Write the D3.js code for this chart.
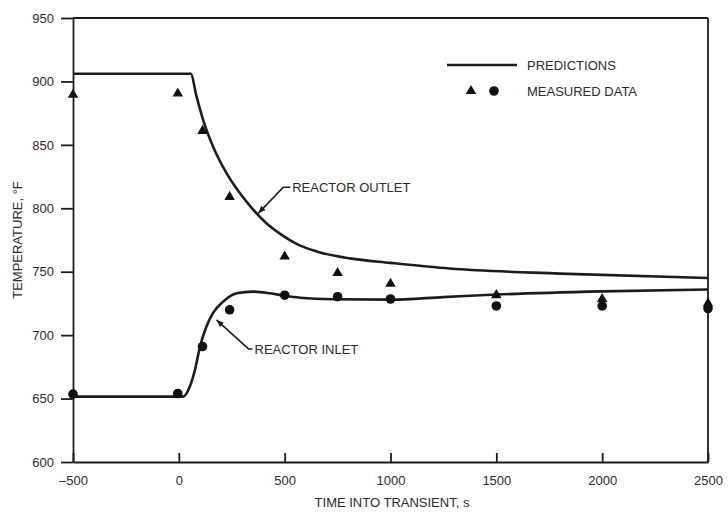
<!DOCTYPE html>
<html>
<head>
<meta charset="utf-8">
<script src="https://cdn.jsdelivr.net/npm/d3@7"></script>
<style>
  body { margin: 0; background: #fff; }
  svg text { font-family: "Liberation Sans", Arial, sans-serif; font-size: 13px; fill: #2b2b2b; }
</style>
</head>
<body>
<div id="chart-area"></div>
<script>
// axis ticks
var timeTicks = [-500, 0, 500, 1000, 1500, 2000, 2500];
var tempTicks = [600, 650, 700, 750, 800, 850, 900, 950];

// predictions
var outletTime = [-500, 56, 84, 115, 162, 226, 288, 351, 415, 491, 556, 651, 808, 1000, 1280, 1800, 2500];
var outletPred = [906, 906, 888, 869.5, 848.5, 827.5, 812, 799, 788, 778.5, 772, 766, 760.5, 757, 752.5, 748.5, 745];

var inletTime = [-500, 20, 52, 76, 100, 131, 162, 210, 273, 351, 430, 501, 572, 733, 1000, 1250, 1500, 2000, 2500];
var inletPred = [651.5, 651.5, 659.5, 672.5, 691, 707, 717.5, 726.5, 733, 734.3, 733, 731, 729.5, 728.3, 728, 730, 732, 734.5, 736];

// measured data
var measTime   = [-500, -5, 112, 240, 500, 750, 1000, 1500, 2000, 2500];
var measOutlet = [889.5, 890.5, 861, 809, 762, 749, 740.5, 731.5, 728.5, 725];
var measInlet  = [653.5, 654, 691, 720, 731.5, 730.3, 728.5, 723, 723, 721];

var margin = { left: 73, right: 20, top: 18, bottom: 50 };

var svg = d3.select("#chart-area")
  .append("svg")
    .attr("width", 728)
    .attr("height", 512);

var g = svg.append("g")
    .attr("transform", "translate(" + margin.left + "," + margin.top + ")");

var x = d3.scaleLinear()
    .domain([-500, 2500])
    .range([0, 635]);
var y = d3.scaleLinear()
    .domain([600, 950])
    .range([444, 0]);

var ink = "#1c1c1c";

// axes
var xAxisCall = d3.axisBottom(x)
    .tickValues(timeTicks)
    .tickSize(-9)
    .tickSizeOuter(0)
    .tickPadding(14)
    .tickFormat(function(d){ return d < 0 ? "\u2013" + Math.abs(d) : d; });
g.append("g")
    .attr("class", "x axis")
    .attr("transform", "translate(0," + y(600) + ")")
    .call(xAxisCall);

var yAxisCall = d3.axisLeft(y)
    .tickValues(tempTicks)
    .tickSize(12)
    .tickSizeOuter(0)
    .tickPadding(7);
g.append("g")
    .attr("class", "y axis")
    .call(yAxisCall);

g.selectAll(".axis path, .axis line")
    .attr("stroke", ink)
    .attr("stroke-width", 1.8);
g.selectAll(".axis text")
    .attr("font-size", "13px")
    .attr("fill", "#2b2b2b");

// frame: top and right
g.append("line")
    .attr("x1", x(-500)).attr("x2", x(2500))
    .attr("y1", y(950)).attr("y2", y(950))
    .attr("stroke", ink).attr("stroke-width", 1.8);
g.append("line")
    .attr("x1", x(2500)).attr("x2", x(2500))
    .attr("y1", y(950)).attr("y2", y(600))
    .attr("stroke", ink).attr("stroke-width", 1.8);

// axis titles
svg.append("text")
    .attr("transform", "translate(22,240) rotate(-90)")
    .attr("text-anchor", "middle")
    .text("TEMPERATURE, \u00B0F");

svg.append("text")
    .attr("x", 392)
    .attr("y", 507)
    .attr("text-anchor", "middle")
    .text("TIME INTO TRANSIENT, s");

// prediction curves
var line = d3.line()
    .x(function(d){ return x(d[0]); })
    .y(function(d){ return y(d[1]); })
    .curve(d3.curveMonotoneX);

g.append("path")
    .datum(d3.zip(outletTime, outletPred))
    .attr("fill", "none")
    .attr("stroke", ink)
    .attr("stroke-width", 2.6)
    .attr("d", line);

g.append("path")
    .datum(d3.zip(inletTime, inletPred))
    .attr("fill", "none")
    .attr("stroke", ink)
    .attr("stroke-width", 2.6)
    .attr("d", line);

// measured points
var tri = d3.symbol().type(d3.symbolTriangle).size(48);

g.selectAll(".tri").data(d3.zip(measTime, measOutlet))
  .enter()
    .append("path")
    .attr("class", "tri")
    .attr("d", tri)
    .attr("fill", "#111")
    .attr("transform", function(d){
      return "translate(" + x(d[0]) + "," + y(d[1]) + ")";
    });

g.selectAll(".dot").data(d3.zip(measTime, measInlet))
  .enter()
    .append("circle")
    .attr("class", "dot")
    .attr("r", 4.8)
    .attr("fill", "#111")
    .attr("cx", function(d){ return x(d[0]); })
    .attr("cy", function(d){ return y(d[1]); });

// annotations with leader lines
svg.append("defs").append("marker")
    .attr("id", "tip")
    .attr("viewBox", "0 0 10 10")
    .attr("refX", 10).attr("refY", 5)
    .attr("markerWidth", 5).attr("markerHeight", 5)
    .attr("orient", "auto")
  .append("path")
    .attr("d", "M0,1 L10,5 L0,9 Z")
    .attr("fill", ink);

var notes = [
  { text: "REACTOR OUTLET", at: [375, 796], elbow: [25, -26], run: 7 },
  { text: "REACTOR INLET",  at: [178, 712], elbow: [32, 29], run: 4 }
];

notes.forEach(function(n){
  var px = x(n.at[0]), py = y(n.at[1]);
  var ex = px + n.elbow[0], ey = py + n.elbow[1];
  g.append("path")
    .attr("d", "M" + (ex + n.run) + "," + ey + " L" + ex + "," + ey + " L" + px + "," + py)
    .attr("fill", "none")
    .attr("stroke", ink)
    .attr("stroke-width", 1.5)
    .attr("marker-end", "url(#tip)");
  g.append("text")
    .attr("x", ex + n.run + 2)
    .attr("y", ey + 4.6)
    .text(n.text);
});

// legend
var legend = svg.append("g").attr("class", "legend");
legend.append("line")
    .attr("x1", 447).attr("x2", 517)
    .attr("y1", 65).attr("y2", 65)
    .attr("stroke", ink).attr("stroke-width", 2.6);
legend.append("text")
    .attr("x", 527).attr("y", 69.6)
    .text("PREDICTIONS");
legend.append("path")
    .attr("d", tri)
    .attr("fill", "#111")
    .attr("transform", "translate(471,91)");
legend.append("circle")
    .attr("cx", 494).attr("cy", 91).attr("r", 4.8)
    .attr("fill", "#111");
legend.append("text")
    .attr("x", 527).attr("y", 95.6)
    .text("MEASURED DATA");
</script>
</body>
</html>
